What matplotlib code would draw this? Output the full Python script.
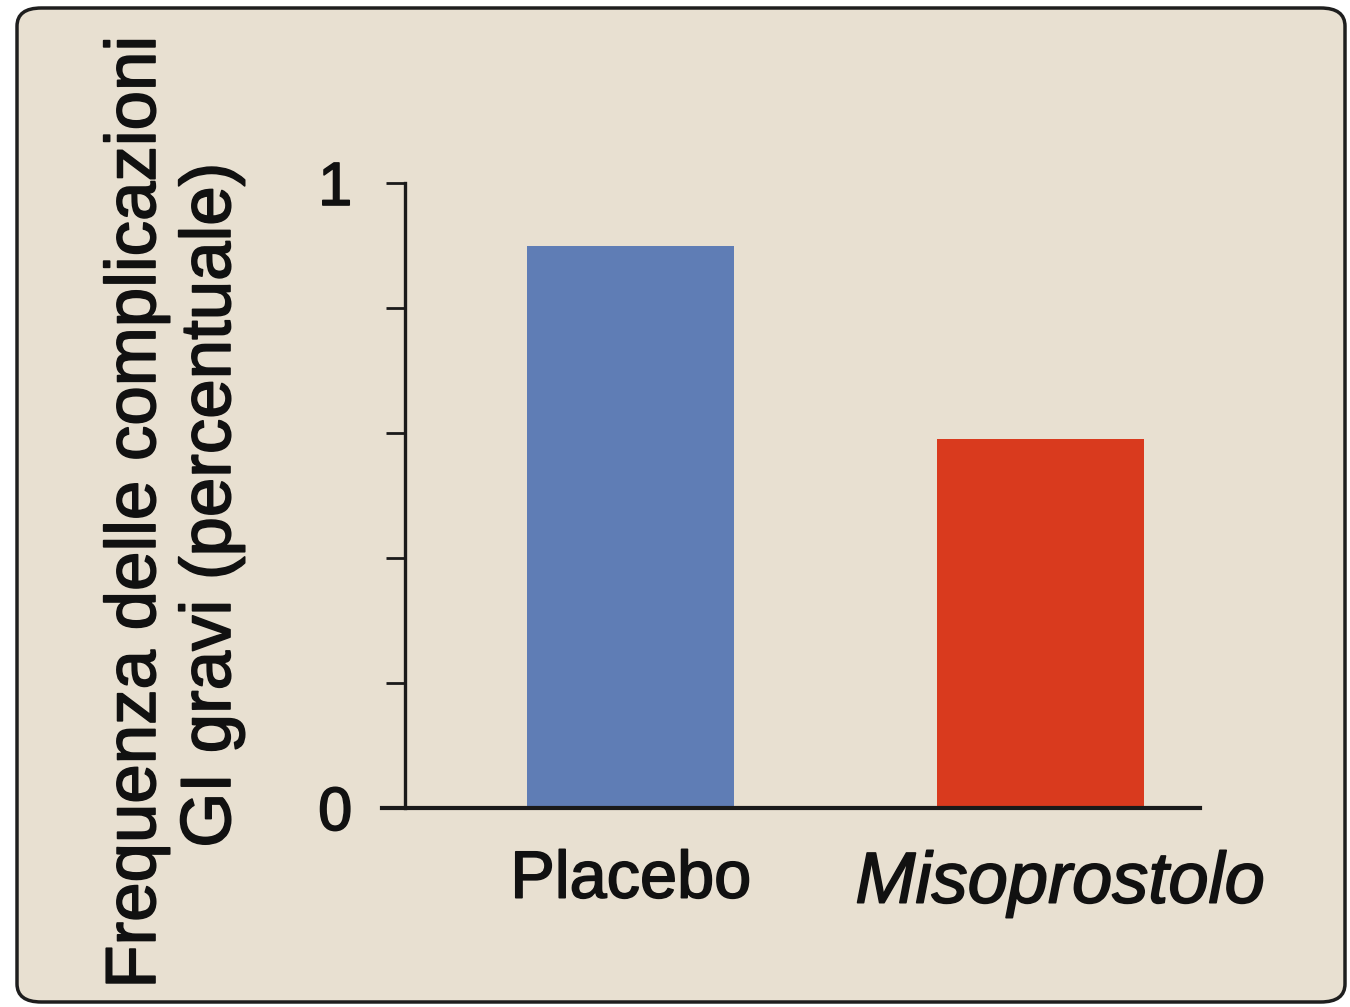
import matplotlib
matplotlib.use('Agg')
import matplotlib.pyplot as plt
from matplotlib.patches import FancyBboxPatch
import matplotlib.patheffects as pe
import matplotlib.transforms as mtransforms

plt.rcParams['font.family'] = ['Liberation Sans', 'DejaVu Sans']

# data
groups = ['Placebo', 'Misoprostolo']
values = [0.9, 0.59]
bar_colors = ['#5f7db5', '#d93a1e']
yticks = [0, 0.2, 0.4, 0.6, 0.8, 1]
ytick_labels = ['0', '', '', '', '', '1']
ylabel_1 = 'Frequenza delle complicazioni'
ylabel_2 = 'GI gravi (percentuale)'

bg = '#e8e0d1'
ink = '#111111'
thick = [pe.withStroke(linewidth=1.2, foreground=ink)]

fig = plt.figure(figsize=(13.5, 10.07), dpi=100, facecolor='white')

# rounded frame of the panel
frame = FancyBboxPatch((17/1350, 5/1007), (1345-17)/1350, (1001-7)/1007,
                       boxstyle='round,pad=0,rounding_size=0.018',
                       transform=fig.transFigure, facecolor=bg,
                       edgecolor='#1e1e1e', lw=2.5, zorder=-5)
fig.patches.append(frame)

ax = fig.add_axes([382/1350, 1-808/1007, (1200-382)/1350, (808-183)/1007])
ax.set_facecolor('none')
ax.set_zorder(2)

x = list(range(len(groups)))
ax.bar(x, values, width=0.505, color=bar_colors, edgecolor='none', zorder=2)

ax.set_xlim(-0.607, 1.388)
ax.set_ylim(0, 1)

for s in ['top', 'right']:
    ax.spines[s].set_visible(False)
ax.spines['left'].set_position(('data', -0.551))
ax.spines['left'].set_linewidth(2.4)
ax.spines['bottom'].set_linewidth(3)
ax.spines['left'].set_color('#1a1a1a')
ax.spines['bottom'].set_color('#1a1a1a')

ax.set_yticks(yticks)
ax.set_yticklabels(ytick_labels, fontsize=44)
ax.tick_params(axis='y', length=14, width=2, pad=24, color='#1a1a1a', labelcolor=ink)

ax.set_xticks(x)
ax.set_xticklabels(groups, fontsize=48)
ax.tick_params(axis='x', length=0, pad=30, labelcolor=ink)
miso = ax.get_xticklabels()[1]
miso.set_style('italic')
miso.set_fontsize(52)
miso.set_transform(miso.get_transform() +
                   mtransforms.ScaledTranslation(0.19, 0, fig.dpi_scale_trans))
for t in ax.get_xticklabels() + ax.get_yticklabels():
    t.set_path_effects(thick)

fig.text(137/1350, 1-512/1007, ylabel_1, rotation=90, fontsize=51,
         ha='center', va='center', color=ink, path_effects=thick)
fig.text(212/1350, 1-505/1007, ylabel_2, rotation=90, fontsize=51,
         ha='center', va='center', color=ink, path_effects=thick)

fig.savefig('out.png', dpi=100, facecolor='white')
